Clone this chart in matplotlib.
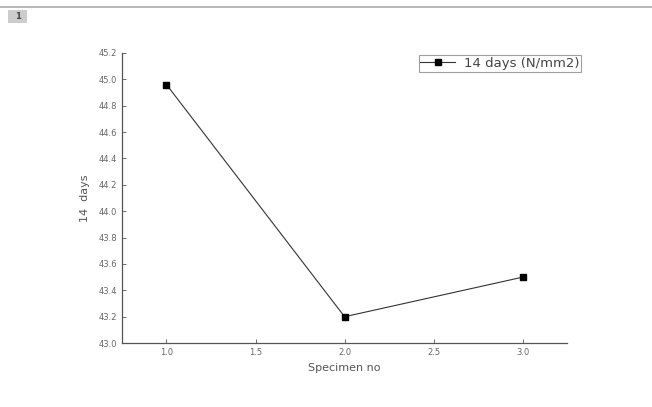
import matplotlib.pyplot as plt
from matplotlib.patches import Rectangle
from matplotlib.lines import Line2D

# compressive strength after 14 days, per specimen
specimen = [1, 2, 3]
strength_14d = [44.96, 43.2, 43.5]
xticks = [1.0, 1.5, 2.0, 2.5, 3.0]
yticks = [43.0, 43.2, 43.4, 43.6, 43.8, 44.0, 44.2, 44.4, 44.6, 44.8, 45.0, 45.2]

fig = plt.figure(figsize=(6.52, 4.07), dpi=100)
ax = fig.add_axes([0.187, 0.157, 0.683, 0.713])

ax.plot(specimen, strength_14d, color='#333333', lw=0.8, marker='s',
        markersize=5, markerfacecolor='black', markeredgecolor='black',
        label='14 days (N/mm2)')

ax.set_xlim(0.75, 3.25)
ax.set_ylim(43.0, 45.2)
ax.set_xticks(xticks)
ax.set_yticks(yticks)
ax.set_xticklabels([f'{t:.1f}' for t in xticks])
ax.set_yticklabels([f'{t:.1f}' for t in yticks])
ax.tick_params(direction='in', length=3, width=0.6, labelsize=6,
               labelcolor='#666666', color='#555555')
for side in ['top', 'right']:
    ax.spines[side].set_visible(False)
for side in ['left', 'bottom']:
    ax.spines[side].set_color('#555555')
    ax.spines[side].set_linewidth(0.9)

ax.set_xlabel('Specimen no', fontsize=8, color='#555555', labelpad=4)
ax.set_ylabel('14  days', fontsize=8, color='#555555', labelpad=6)

leg = ax.legend(loc='upper right', bbox_to_anchor=(1.04, 1.005), fontsize=9.5,
                frameon=True, fancybox=False, borderpad=0.12,
                handlelength=2.6, handletextpad=0.7, borderaxespad=0.3)
leg.get_frame().set_edgecolor('#888888')
leg.get_frame().set_linewidth(0.8)
for t in leg.get_texts():
    t.set_color('#444444')

# page header: thin rule and the small numbered tab
fig.add_artist(Line2D([0, 1], [0.983, 0.983], color='#aaaaaa', lw=1.2))
fig.add_artist(Rectangle((0.012, 0.944), 0.03, 0.032, facecolor='#cccccc',
                         edgecolor='none'))
fig.text(0.027, 0.960, '1', fontsize=6, color='#444444', ha='center',
         va='center', weight='bold')

fig.savefig('out.png', dpi=100)
